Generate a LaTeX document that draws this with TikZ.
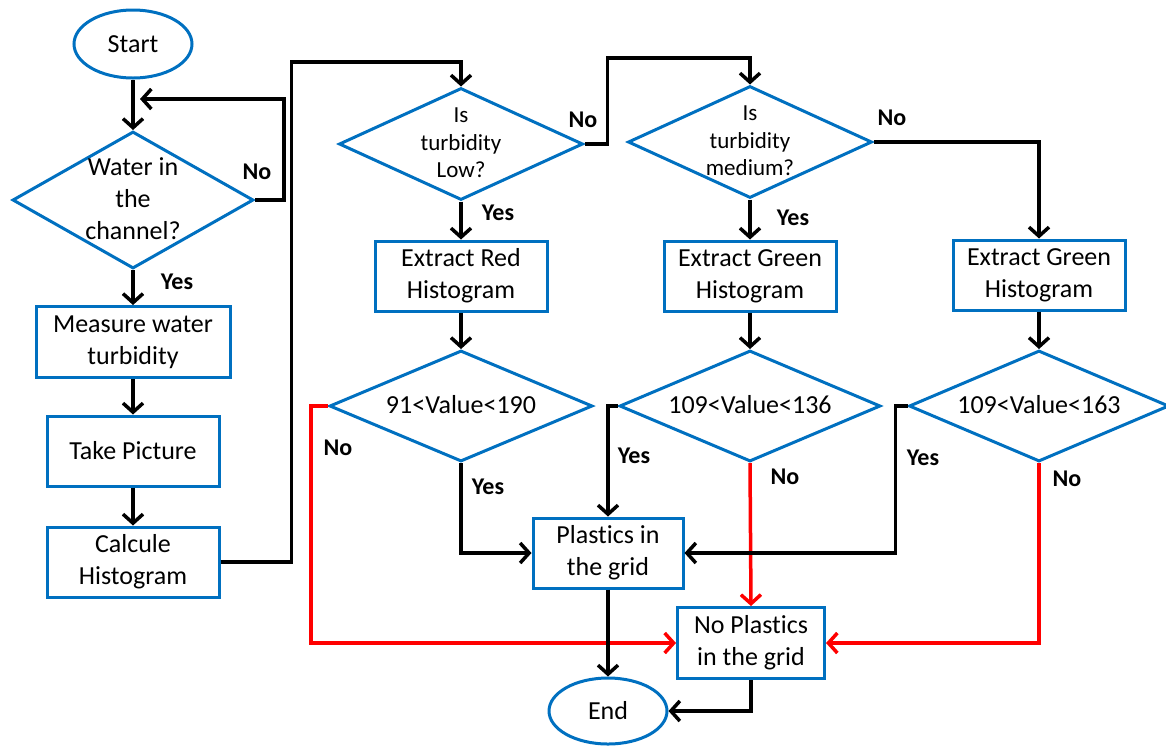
\documentclass[tikz,border=0pt]{standalone}
\usepackage{fontspec}
\setmainfont[RawFeature=-liga]{Carlito}
\usetikzlibrary{shapes.geometric,arrows.meta}
\definecolor{fcblue}{RGB}{0,112,192}
\definecolor{fcred}{RGB}{255,0,0}
\newcommand{\dtext}[1]{\makebox[0pt]{\smash{\raisebox{-0.3em}{\begin{tabular}{@{}c@{}}#1\end{tabular}}}}}
\tikzset{
  every node/.style={font=\fontsize{26}{32}\selectfont, text=black},
  proc/.style={draw=fcblue, line width=3pt, rectangle, align=center, inner sep=0pt, minimum width=172pt, minimum height=70pt},
  term/.style={draw=fcblue, line width=3pt, ellipse, inner sep=0pt, minimum width=118pt, minimum height=68pt},
  dia/.style={draw=fcblue, line width=3pt, diamond, inner sep=0pt},
  smalltext/.style={font=\fontsize{23}{27.5}\selectfont},
  lbl/.style={font=\fontsize{24}{28}\selectfont\bfseries},
  arr/.style={draw=black, line width=3.5pt, -{Straight Barb[length=9pt, width=20pt]}},
  redarr/.style={arr, draw=fcred},
}
\begin{document}
\begin{tikzpicture}[x=1pt, y=-1pt]
\useasboundingbox (0,0) rectangle (1166,745);
% nodes
\node[term] (start) at (133,44) {Start};
\node[dia, minimum width=241pt, minimum height=137pt] (d1) at (133,200) {\dtext{Water in\\the\\channel?}};
\node[proc, minimum width=194pt, minimum height=71pt] (meas) at (133,342) {Measure water\\turbidity};
\node[proc] (pic) at (133,451) {Take Picture};
\node[proc] (calc) at (133,562) {Calcule\\Histogram};
\node[dia, smalltext, minimum width=244pt, minimum height=112pt] (d2) at (461,144) {\dtext{Is\\turbidity\\Low?}};
\node[proc] (red) at (461,276) {Extract Red\\Histogram};
\node[dia, minimum width=263pt, minimum height=111pt] (v1) at (461,406) {\dtext{91<Value<190}};
\node[dia, smalltext, minimum width=244pt, minimum height=112pt] (d3) at (750,142) {\dtext{Is\\turbidity\\medium?}};
\node[proc] (g1) at (750,276) {Extract Green\\Histogram};
\node[dia, minimum width=261pt, minimum height=111pt] (v2) at (750,406) {\dtext{109<Value<136}};
\node[proc] (g2) at (1039,275) {Extract Green\\Histogram};
\node[dia, minimum width=260pt, minimum height=111pt] (v3) at (1039,406) {\dtext{109<Value<163}};
\node[proc, minimum width=150pt, minimum height=70pt] (pl) at (608,553) {Plastics in\\the grid};
\node[proc, minimum width=147pt, minimum height=71pt] (np) at (751,643) {No Plastics\\in the grid};
\node[term, minimum height=66pt] (end) at (608,711) {End};
\coordinate (lp) at (140,99);
% connectors
\draw[arr] (start) -- (d1);
\draw[arr] (d1.east) -- ++(29,0) |- (lp);
\draw[arr] (d1) -- (meas);
\draw[arr] (meas) -- (pic);
\draw[arr] (pic) -- (calc);
\draw[arr] (calc.east) -- ++(71,0) -- ++(0,-500) -| (d2.north);
\draw[arr] (d2.east) -- ++(23,0) -- ++(0,-86) -| (d3.north);
\draw[arr] (d3.east) -| (g2.north);
\draw[arr] (d2) -- (red);
\draw[arr] (red) -- (v1);
\draw[arr] (d3) -- (g1);
\draw[arr] (g1) -- (v2);
\draw[arr] (g2) -- (v3);
\draw[redarr] (v1.west) -- ++(-17,0) |- (np.west);
\draw[arr] (v1.south) |- (pl.west);
\draw[arr] (v2.west) -| (pl.north);
\draw[redarr] (v2.south) -- (np.north);
\draw[arr] (v3.west) -- ++(-12,0) |- (pl.east);
\draw[redarr] (v3.south) |- (np.east);
\draw[arr] (pl) -- (end);
\draw[arr] (np.south) |- (end.east);
% labels
\node[lbl] (l1) at (257,172) {No};
\node[lbl] (l2) at (177,282) {Yes};
\node[lbl] (l3) at (583,120) {No};
\node[lbl] (l4) at (498,213) {Yes};
\node[lbl] (l5) at (892,118) {No};
\node[lbl] (l6) at (793,218) {Yes};
\node[lbl] (l7) at (338,448) {No};
\node[lbl] (l8) at (488,487) {Yes};
\node[lbl] (l9) at (634,456) {Yes};
\node[lbl] (l10) at (785,477) {No};
\node[lbl] (l11) at (923,458) {Yes};
\node[lbl] (l12) at (1067,479) {No};
\end{tikzpicture}
\end{document}
